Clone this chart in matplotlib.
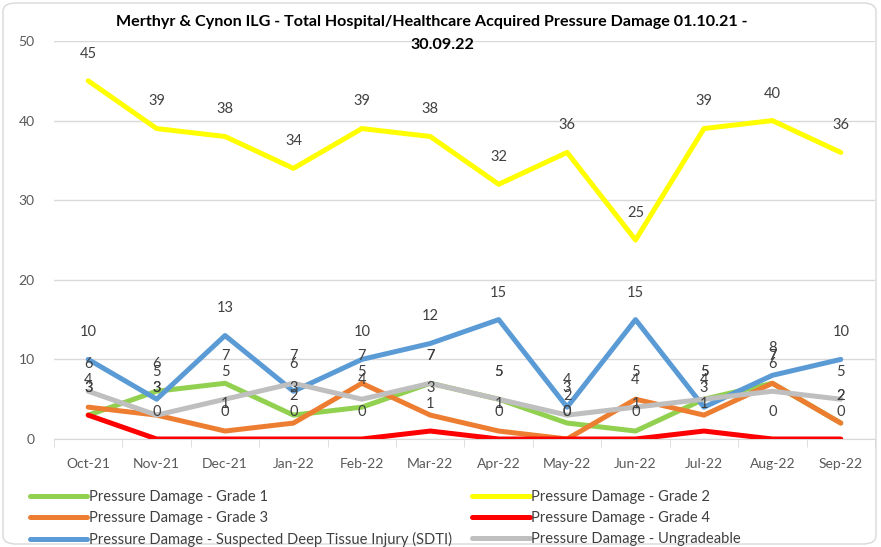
import matplotlib
matplotlib.use("Agg")
import matplotlib.pyplot as plt
from matplotlib.patches import FancyBboxPatch
import numpy as np

plt.rcParams['font.family'] = ['Lato', 'DejaVu Sans']

months = ["Oct-21", "Nov-21", "Dec-21", "Jan-22", "Feb-22", "Mar-22",
          "Apr-22", "May-22", "Jun-22", "Jul-22", "Aug-22", "Sep-22"]
grade1 = [3, 6, 7, 3, 4, 7, 5, 2, 1, 5, 7, 2]
grade2 = [45, 39, 38, 34, 39, 38, 32, 36, 25, 39, 40, 36]
grade3 = [4, 3, 1, 2, 7, 3, 1, 0, 5, 3, 7, 2]
grade4 = [3, 0, 0, 0, 0, 1, 0, 0, 0, 1, 0, 0]
sdti = [10, 5, 13, 6, 10, 12, 15, 4, 15, 4, 8, 10]
ungradeable = [6, 3, 5, 7, 5, 7, 5, 3, 4, 5, 6, 5]

series = [
    ("Pressure Damage - Grade 1", grade1, "#92D050"),
    ("Pressure Damage - Grade 2", grade2, "#FFFF00"),
    ("Pressure Damage - Grade 3", grade3, "#ED7D31"),
    ("Pressure Damage - Grade 4", grade4, "#FF0000"),
    ("Pressure Damage - Suspected Deep Tissue Injury (SDTI)", sdti, "#5B9BD5"),
    ("Pressure Damage - Ungradeable", ungradeable, "#BFBFBF"),
]

W, H = 881, 547
fig = plt.figure(figsize=(W / 100, H / 100), dpi=100)

# chart border
border = FancyBboxPatch((3 / W, 3 / H), (W - 8) / W, (H - 6) / H,
                        boxstyle="round,pad=0,rounding_size=0.015",
                        transform=fig.transFigure, fill=False,
                        edgecolor="#D9D9D9", linewidth=1.0)
fig.patches.append(border)

left, right, top, bottom = 54, 875, 41, 439
ax = fig.add_axes([left / W, 1 - bottom / H, (right - left) / W, (bottom - top) / H])

x = np.arange(len(months))
lines = []
for name, vals, col in series:
    ln, = ax.plot(x, vals, color=col, linewidth=3.6, solid_capstyle="round",
                  solid_joinstyle="round", label=name, zorder=3)
    lines.append(ln)

for name, vals, col in series:
    for xi, v in zip(x, vals):
        ax.annotate(str(v), (xi, v), xytext=(0, 19.5), textcoords="offset points",
                    ha="center", va="center", fontsize=10.5, color="#404040", zorder=5)

ax.set_xlim(-0.5, len(months) - 0.5)
ax.set_ylim(0, 50)
ax.set_yticks([0, 10, 20, 30, 40, 50])
ax.yaxis.grid(True, color="#D9D9D9", linewidth=1.0)
ax.set_axisbelow(True)
for s in ["top", "right", "left"]:
    ax.spines[s].set_visible(False)
ax.spines["bottom"].set_color("#D9D9D9")
ax.tick_params(axis="y", length=0, labelsize=10, labelcolor="#595959", pad=14)
ax.set_xticks(x)
ax.set_xticklabels(months)
ax.tick_params(axis="x", which="major", length=0, labelsize=10, labelcolor="#595959", pad=14)
ax.set_xticks(np.arange(-0.5, len(months), 1.0), minor=True)
ax.tick_params(axis="x", which="minor", length=6, color="#D9D9D9", direction="out")

fig.text((112 + 752) / 2 / W, 1 - 22 / H,
         "Merthyr & Cynon ILG - Total Hospital/Healthcare Acquired Pressure Damage 01.10.21 -",
         ha="center", va="center", fontsize=11.6, fontweight="bold", color="#000000")
fig.text((112 + 752) / 2 / W + 10 / W, 1 - 45 / H, "30.09.22",
         ha="center", va="center", fontsize=11.6, fontweight="bold", color="#000000")

order = [0, 2, 4, 1, 3, 5]
leg = fig.legend([lines[i] for i in order], [series[i][0] for i in order],
                 ncol=2, loc="upper left", bbox_to_anchor=(24 / W, 1 - 484 / H),
                 frameon=False, fontsize=10.6, handlelength=3.9, handletextpad=0.1,
                 columnspacing=1.4, labelspacing=0.48, borderaxespad=0)
for t in leg.get_texts():
    t.set_color("#404040")

fig.savefig("out.png", dpi=100)
